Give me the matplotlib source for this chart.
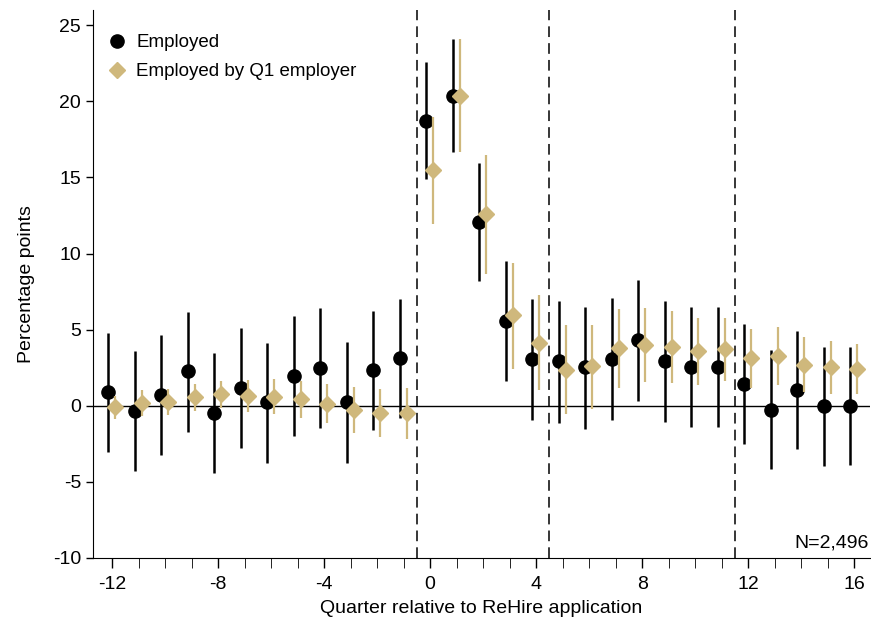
import matplotlib.pyplot as plt
import numpy as np
from matplotlib.lines import Line2D

plt.rcParams["font.family"] = ["Liberation Sans", "DejaVu Sans"]
plt.rcParams["axes.unicode_minus"] = False

# quarters relative to the application
quarters = np.arange(-12, 17)

# employed: point estimate and 95% CI
emp = [0.88, -0.37, 0.68, 2.26, -0.50, 1.18, 0.24, 1.93, 2.46, 0.24, 2.32, 3.11,
       18.70, 20.35, 12.06, 5.55, 3.05, 2.92, 2.52, 3.09, 4.32, 2.94, 2.57, 2.54,
       1.40, -0.28, 1.05, -0.04, -0.02]
emp_lo = [-3.03, -4.28, -3.22, -1.69, -4.43, -2.79, -3.73, -2.00, -1.49, -3.73, -1.62, -0.81,
          14.87, 16.67, 8.18, 1.60, -0.94, -1.14, -1.51, -0.92, 0.29, -1.07, -1.40, -1.40,
          -2.52, -4.17, -2.85, -3.97, -3.90]
emp_hi = [4.78, 3.57, 4.63, 6.16, 3.44, 5.09, 4.14, 5.88, 6.40, 4.21, 6.23, 7.04,
          22.60, 24.10, 15.92, 9.50, 7.04, 6.91, 6.51, 7.08, 8.29, 6.91, 6.51, 6.49,
          5.35, 3.64, 4.93, 3.84, 3.88]

# employed by the Q1 employer
q1 = [-0.11, 0.18, 0.24, 0.55, 0.75, 0.66, 0.59, 0.42, 0.13, -0.28, -0.48, -0.48,
      15.48, 20.35, 12.59, 5.94, 4.14, 2.37, 2.59, 3.77, 4.01, 3.86, 3.57, 3.73,
      3.14, 3.27, 2.70, 2.52, 2.39]
q1_lo = [-0.88, -0.70, -0.61, -0.33, -0.13, -0.42, -0.55, -0.81, -1.16, -1.78, -2.06, -2.17,
         11.93, 16.67, 8.66, 2.39, 1.05, -0.57, -0.20, 1.16, 1.56, 1.47, 1.34, 1.62,
         1.16, 1.34, 0.90, 0.79, 0.75]
q1_hi = [0.61, 1.05, 1.10, 1.40, 1.62, 1.67, 1.75, 1.64, 1.43, 1.23, 1.12, 1.18,
         18.99, 24.10, 16.45, 9.41, 7.28, 5.29, 5.31, 6.36, 6.45, 6.25, 5.75, 5.79,
         5.02, 5.15, 4.52, 4.28, 4.03]

breaks = [-0.5, 4.5, 11.5]
n_obs = "N=2,496"

gold = "#CFB87C"

fig = plt.figure(figsize=(8.71, 6.24), dpi=100)
ax = fig.add_axes([93 / 871, 66 / 624, 777 / 871, 548 / 624])

ax.axhline(0, color="black", lw=1.0, zorder=1)
for b in breaks:
    ax.axvline(b, color="black", lw=1.1, ls=(0, (7, 4)), zorder=1)

emp = np.array(emp)
q1 = np.array(q1)
ax.errorbar(quarters - 0.14, emp,
            yerr=[emp - np.array(emp_lo), np.array(emp_hi) - emp],
            fmt="o", color="black", ms=9.5, elinewidth=1.8, capsize=0, zorder=3)
ax.errorbar(quarters + 0.12, q1,
            yerr=[q1 - np.array(q1_lo), np.array(q1_hi) - q1],
            fmt="D", color=gold, ms=8.2, elinewidth=1.6, capsize=0, zorder=4)

ax.set_xlim(-12.72, 16.6)
ax.set_ylim(-10, 26)
ax.set_xticks(np.arange(-12, 17, 4))
ax.set_xticks(quarters, minor=True)
ax.set_yticks(np.arange(-10, 26, 5))
ax.tick_params(axis="both", labelsize=14, direction="out", width=1, color="black")
ax.tick_params(axis="x", which="both", length=7, pad=6)
ax.tick_params(axis="y", length=5)
ax.spines["top"].set_visible(False)
ax.spines["right"].set_visible(False)

ax.set_xlabel("Quarter relative to ReHire application", fontsize=14, labelpad=5)
ax.set_ylabel("Percentage points", fontsize=14, labelpad=13)

ax.text(0.998, 0.012, n_obs, transform=ax.transAxes, ha="right", va="bottom",
        fontsize=14)

handles = [
    Line2D([], [], marker="o", ls="", color="black", ms=9.5),
    Line2D([], [], marker="D", ls="", color=gold, ms=8.2),
]
ax.legend(handles, ["Employed", "Employed by Q1 employer"], loc="upper left",
          bbox_to_anchor=(0.007, 0.97), frameon=False, fontsize=13.5,
          handletextpad=0.41, borderaxespad=0, labelspacing=0.65,
          handlelength=1.2)

fig.savefig("out.png", dpi=100)
